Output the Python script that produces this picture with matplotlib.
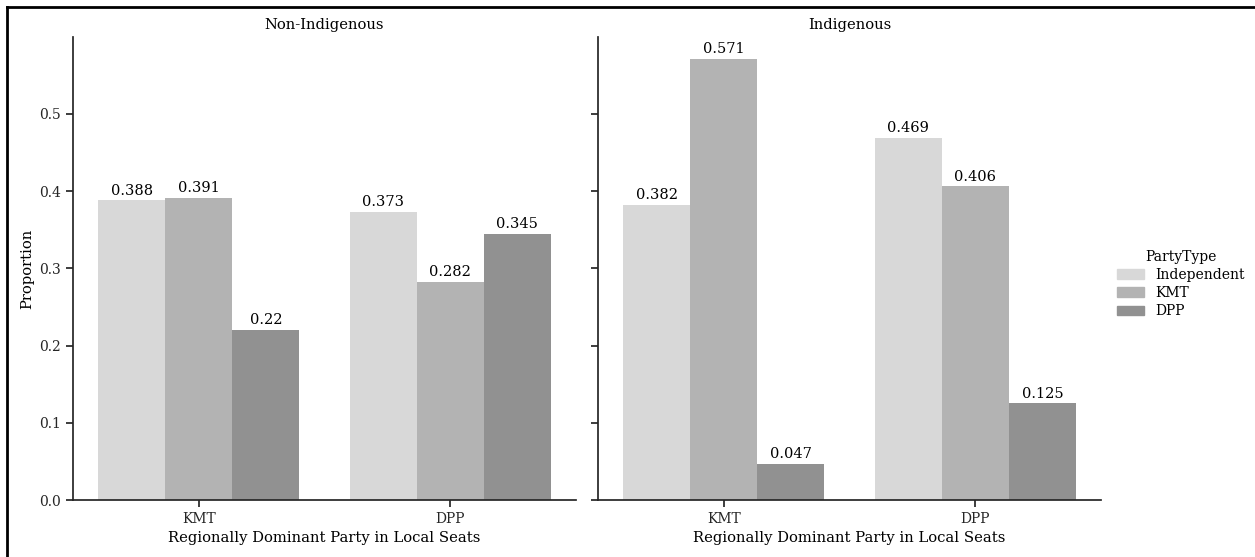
import numpy as np
import matplotlib.pyplot as plt
from matplotlib.lines import Line2D
from matplotlib.patches import Patch

# data
panels = ["Non-Indigenous", "Indigenous"]
dominant = ["KMT", "DPP"]
party_types = ["Independent", "KMT", "DPP"]
non_indigenous = [[0.388, 0.391, 0.22], [0.373, 0.282, 0.345]]
indigenous = [[0.382, 0.571, 0.047], [0.469, 0.406, 0.125]]
colors = ["#d8d8d8", "#b3b3b3", "#919191"]

plt.rcParams["font.family"] = "DejaVu Serif"
plt.rcParams["font.size"] = 10
plt.rcParams["axes.edgecolor"] = "#262626"
plt.rcParams["axes.linewidth"] = 1.25
plt.rcParams["xtick.major.width"] = 1.25
plt.rcParams["ytick.major.width"] = 1.25
plt.rcParams["xtick.major.size"] = 5
plt.rcParams["ytick.major.size"] = 5
plt.rcParams["xtick.color"] = "#262626"
plt.rcParams["ytick.color"] = "#262626"

W, H = 1255, 557
fig = plt.figure(figsize=(W / 100, H / 100), dpi=100)

ax1 = fig.add_axes([73 / W, (H - 500) / H, 503 / W, 463 / H])
ax2 = fig.add_axes([598 / W, (H - 500) / H, 503 / W, 463 / H], sharey=ax1)

x = np.arange(len(dominant))
width = 0.8 / len(party_types)
for ax, title, data in zip([ax1, ax2], panels, [non_indigenous, indigenous]):
    data = np.array(data)
    for j, party in enumerate(party_types):
        bars = ax.bar(x - 0.4 + width * (j + 0.5), data[:, j], width,
                      color=colors[j], label=party)
        ax.bar_label(bars, labels=[f"{v:g}" for v in data[:, j]], padding=2,
                     fontsize=10.5)
    ax.set_xticks(x)
    ax.set_xticklabels(dominant)
    ax.set_xlim(-0.5, 1.5)
    ax.set_title(title, fontsize=10.6)
    ax.set_xlabel("Regionally Dominant Party in Local Seats", fontsize=10.6)
    for s in ["top", "right"]:
        ax.spines[s].set_visible(False)

ax1.set_ylabel("Proportion", fontsize=10.6)
ax1.set_ylim(0, 0.5996)
ax1.set_yticks([0.0, 0.1, 0.2, 0.3, 0.4, 0.5])
ax2.tick_params(axis="y", labelleft=False)

handles = [Patch(color=c, label=p) for c, p in zip(colors, party_types)]
fig.legend(handles=handles, title="PartyType", frameon=False,
           loc="center left", bbox_to_anchor=(1104 / W, 0.49),
           title_fontsize=10, fontsize=10, labelspacing=0.3)

# partial frame around the figure (top and left edges)
fig.add_artist(Line2D([7 / W, 1.0], [1 - 7 / H, 1 - 7 / H], color="black",
                      linewidth=2, transform=fig.transFigure))
fig.add_artist(Line2D([7 / W, 7 / W], [0.0, 1 - 7 / H], color="black",
                      linewidth=2, transform=fig.transFigure))

fig.savefig("out.png", dpi=100)
